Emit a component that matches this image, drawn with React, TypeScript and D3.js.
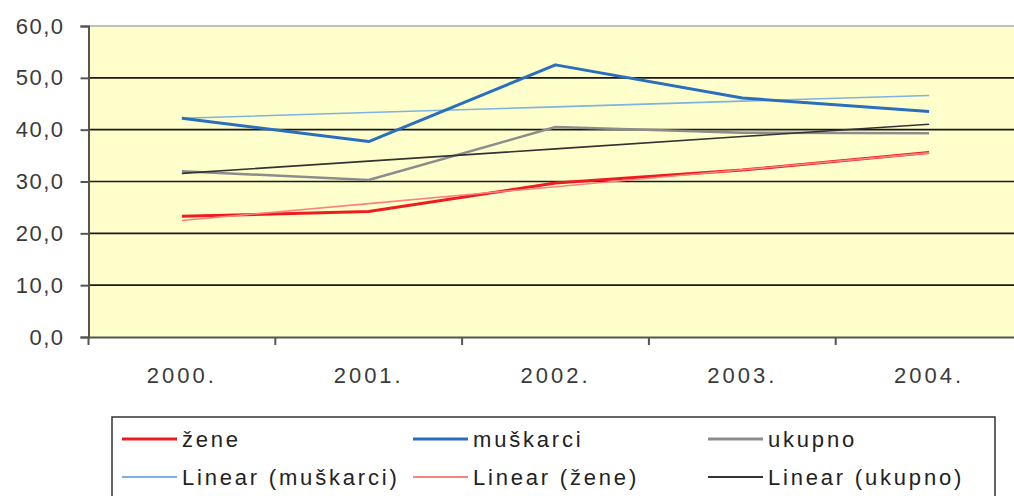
import React, { useEffect, useRef } from "react";
import * as d3 from "d3";

const years = ["2000.", "2001.", "2002.", "2003.", "2004."];
const zene = [23.3, 24.2, 29.7, 32.2, 35.6];
const muskarci = [42.2, 37.7, 52.5, 46.1, 43.5];
const ukupno = [32.0, 30.3, 40.5, 39.4, 39.3];
const yTicks = [0, 10, 20, 30, 40, 50, 60];

const fmt = (v: number) => v.toFixed(1).replace(".", ",");

// least squares trend over category index
const trend = (vals: number[]) => {
  const xs = vals.map((_, i) => i);
  const mx = d3.mean(xs) as number;
  const my = d3.mean(vals) as number;
  const slope =
    d3.sum(xs, (x, i) => (x - mx) * (vals[i] - my)) / d3.sum(xs, (x) => (x - mx) ** 2);
  return xs.map((x) => my + slope * (x - mx));
};

const series = [
  { name: "žene", values: zene, color: "#ee1c1c", width: 3 },
  { name: "muškarci", values: muskarci, color: "#2a6fbd", width: 3 },
  { name: "ukupno", values: ukupno, color: "#8c8c8c", width: 2.5 },
];
const trends = [
  { name: "Linear (muškarci)", values: trend(muskarci), color: "#7fb2e0", width: 1.6 },
  { name: "Linear (žene)", values: trend(zene), color: "#ff8080", width: 1.6 },
  { name: "Linear (ukupno)", values: trend(ukupno), color: "#333333", width: 1.6 },
];

const App = () => {
  const ref = useRef<SVGSVGElement>(null);

  useEffect(() => {
    const svg = d3.select(ref.current);
    svg.selectAll("*").remove();

    const left = 88.5;
    const top = 26;
    const bottom = 337;
    const plotRight = left + 5 * 186.8;
    const font = "'Liberation Sans', Arial, sans-serif";

    const x = d3.scaleBand().domain(years).range([left, plotRight]).padding(0);
    const y = d3.scaleLinear().domain([0, 60]).range([bottom, top]);
    const cx = (i: number) => (x(years[i]) as number) + x.bandwidth() / 2;

    svg
      .append("rect")
      .attr("x", left)
      .attr("y", top)
      .attr("width", plotRight - left)
      .attr("height", bottom - top)
      .attr("fill", "#ffffcc");

    svg
      .append("line")
      .attr("x1", left)
      .attr("x2", plotRight)
      .attr("y1", top)
      .attr("y2", top)
      .attr("stroke", "#aaaaaa")
      .attr("stroke-width", 1.5);

    svg
      .append("g")
      .selectAll("line")
      .data(yTicks.filter((t) => t > 0 && t < 60))
      .join("line")
      .attr("x1", left)
      .attr("x2", plotRight)
      .attr("y1", (d) => y(d))
      .attr("y2", (d) => y(d))
      .attr("stroke", "#1a1a10")
      .attr("stroke-width", 1.6);

    // y axis
    const yAxis = svg
      .append("g")
      .attr("transform", `translate(${left},0)`)
      .call(d3.axisLeft(y).tickValues(yTicks).tickSize(8).tickPadding(16).tickFormat((d) => fmt(+d)));
    yAxis.select(".domain").attr("stroke", "#555").attr("stroke-width", 2);
    yAxis.selectAll(".tick line").attr("stroke", "#555").attr("stroke-width", 2);
    yAxis
      .selectAll(".tick text")
      .attr("fill", "#3a3a3a")
      .style("font-family", font)
      .style("font-size", "22px")
      .style("letter-spacing", "1.5px");

    // x axis
    const xAxis = svg
      .append("g")
      .attr("transform", `translate(0,${bottom})`)
      .call(d3.axisBottom(x).tickSize(0).tickPadding(30));
    xAxis.select(".domain").attr("stroke", "#555").attr("stroke-width", 2);
    xAxis
      .selectAll(".tick text")
      .attr("fill", "#3a3a3a")
      .style("font-family", font)
      .style("font-size", "22px")
      .style("letter-spacing", "3px");
    svg
      .append("g")
      .selectAll("line")
      .data(years)
      .join("line")
      .attr("x1", (d) => x(d) as number)
      .attr("x2", (d) => x(d) as number)
      .attr("y1", bottom)
      .attr("y2", bottom + 8)
      .attr("stroke", "#555")
      .attr("stroke-width", 2);

    const line = d3
      .line<number>()
      .x((_, i) => cx(i))
      .y((d) => y(d));

    const drawOrder = [series[0], trends[1], series[2], trends[2], trends[0], series[1]];
    svg
      .append("g")
      .selectAll("path")
      .data(drawOrder)
      .join("path")
      .attr("d", (d) => line(d.values))
      .attr("fill", "none")
      .attr("stroke", (d) => d.color)
      .attr("stroke-width", (d) => d.width)
      .attr("stroke-linejoin", "round");

    // legend
    svg
      .append("rect")
      .attr("x", 112)
      .attr("y", 417)
      .attr("width", 883)
      .attr("height", 100)
      .attr("fill", "#fff")
      .attr("stroke", "#333")
      .attr("stroke-width", 1.5);

    const items = [series[0], series[1], series[2], trends[0], trends[1], trends[2]];
    const colX = [122, 413, 708];
    const rowY = [439, 477];
    const lg = svg
      .append("g")
      .selectAll("g")
      .data(items)
      .join("g")
      .attr("transform", (_, i) => `translate(${colX[i % 3]},${rowY[Math.floor(i / 3)]})`);
    lg.append("line")
      .attr("x1", 0)
      .attr("x2", 55)
      .attr("y1", 0)
      .attr("y2", 0)
      .attr("stroke", (d) => d.color)
      .attr("stroke-width", (d) => (d.width > 2 ? 3 : 2));
    lg.append("text")
      .attr("x", 60)
      .attr("y", 0)
      .attr("dy", "0.35em")
      .attr("fill", "#222")
      .style("font-family", font)
      .style("font-size", "22px")
      .style("letter-spacing", "2.8px")
      .text((d) => d.name);
  }, []);

  return (
    <svg
      ref={ref}
      width={1014}
      height={496}
      style={{ position: "absolute", left: 0, top: 0, background: "#fff" }}
    />
  );
};

export default App;
